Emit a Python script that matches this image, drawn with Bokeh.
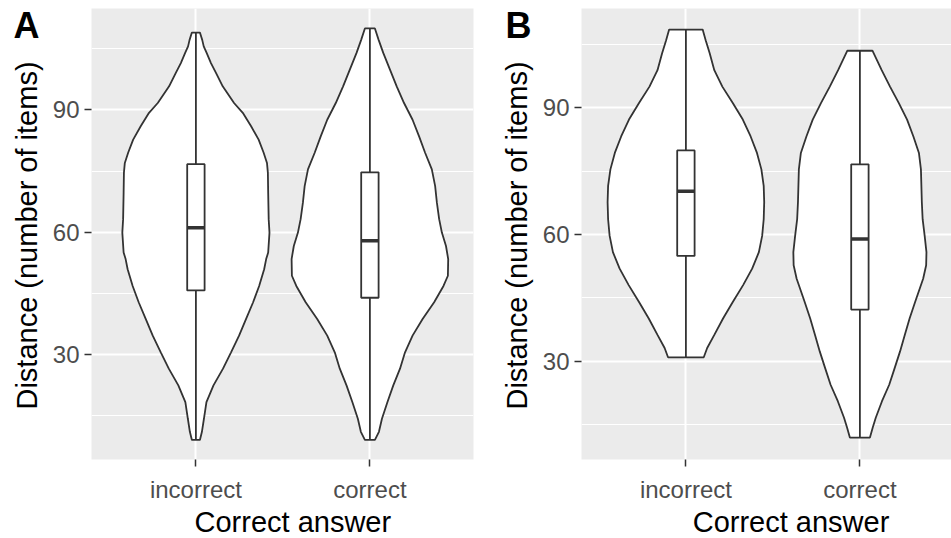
import numpy as np
from bokeh.plotting import figure
from bokeh.layouts import row, column
from bokeh.models import FixedTicker, Range1d
from bokeh.core.properties import value
from bokeh.embed import file_html
from bokeh.resources import INLINE

# ---------------- data ----------------
categories = ["incorrect", "correct"]

# Panel A: violin outlines (distance, relative density / half-width)
a_incorrect_dist = [9.0, 11.0, 14.2, 18.3, 22.4, 26.5, 30.5, 34.6, 38.7, 42.8, 46.8, 50.9, 53.4, 55.0,
                    59.9, 63.2, 69.7, 74.6, 77.0, 79.5, 82.7, 86.0, 89.3, 91.7, 95.8, 99.1, 101.5,
                    104.0, 105.6, 107.2, 109.0]
a_incorrect_dens = [4, 6, 8, 10.5, 17.5, 27, 35, 43, 50, 57, 63, 68, 70, 72,
                    73.3, 72.5, 72, 71.7, 70.8, 67.5, 62.5, 55, 46.7, 38, 26.7, 20, 15,
                    10.7, 7.8, 6.3, 4]
a_correct_dist = [9.0, 11.0, 14.2, 18.3, 22.4, 26.5, 30.5, 34.6, 38.7, 42.8, 46.8, 49.3, 53.4, 56.6,
                  59.9, 63.2, 67.3, 71.3, 75.4, 79.5, 83.5, 87.6, 91.7, 95.8, 99.9, 104.0, 107.2, 110.0]
a_correct_dens = [5, 9, 12, 17.5, 23.3, 30, 35, 42.5, 52.5, 64, 73.3, 77.7, 78, 75.8,
                  71.7, 69, 66.7, 65, 61.7, 55, 49, 42.5, 34, 26.7, 20, 13.3, 8.7, 5]

# Panel A: box plot statistics
a_lower = [45.7, 43.9]
a_median = [61.1, 57.9]
a_upper = [76.7, 74.7]
a_whisk_low = [9.0, 9.0]
a_whisk_high = [109.0, 110.0]

# Panel B: violin outlines
b_incorrect_dist = [30.9, 33.1, 36.2, 40.1, 44.0, 48.0, 51.9, 55.8, 59.7, 63.6, 67.6, 71.5, 75.4,
                    79.3, 83.2, 87.2, 91.1, 95.0, 98.9, 102.9, 106.0, 108.5]
b_incorrect_dens = [17.8, 21.2, 28.3, 37, 46.7, 57, 66, 72.7, 76, 77.5, 78, 77.5, 75.2,
                    70.8, 64.5, 56.7, 46.7, 36.3, 28.3, 23.7, 19.7, 16.7]
b_correct_dist = [11.9, 14.3, 16.6, 20.5, 24.4, 28.4, 32.3, 36.2, 40.1, 44.0, 49.5, 52.7, 55.8, 59.7,
                  63.6, 67.6, 75.4, 79.3, 83.2, 87.2, 91.1, 95.0, 98.9, 103.5]
b_correct_dens = [10, 12.8, 15.8, 22, 29.2, 34.7, 40, 44.7, 49.5, 55, 63, 66, 66.3, 64.5,
                  62.5, 61.7, 60.8, 58.8, 53.3, 47, 38.8, 30, 21.7, 12.5]

# Panel B: box plot statistics
b_lower = [54.9, 42.2]
b_median = [70.2, 58.9]
b_upper = [79.9, 76.6]
b_whisk_low = [30.9, 11.9]
b_whisk_high = [108.5, 103.5]

y_ticks = [30, 60, 90]
y_minor = [15, 45, 75, 105]
a_yrange = (4.2, 114.9)
b_yrange = (6.7, 113.5)

x_title = "Correct answer"
y_title = "Distance (number of items)"

# ---------------- styling / layout ----------------
FONT = "Liberation Sans"
INK = "#333333"
PANEL_BG = "#EBEBEB"
PX_PER_CAT = 174.0
TOTAL_H = 538
STRIP_W = 46          # left strip holding panel letter + y title
MAIN_H = 505          # main plot height (frame + tick labels)
TITLE_H = TOTAL_H - MAIN_H
LEFT_B = 45
TOP_B = 8
BOTTOM_B = 43


def text_strip(width, height, xs, ys, texts, sizes, styles, angles, aligns):
    s = figure(width=width, height=height, x_range=Range1d(0, width), y_range=Range1d(0, height),
               x_axis_type=None, y_axis_type=None, output_backend="svg", toolbar_location=None,
               min_border=0)
    s.outline_line_color = None
    s.background_fill_color = "white"
    s.border_fill_color = "white"
    for x, y, t, fs, st, an, al in zip(xs, ys, texts, sizes, styles, angles, aligns):
        s.text(x=[x], y=[y], text=[t], angle=an, text_font=value(FONT), text_font_size=value(fs),
               text_font_style=st, text_color="black", text_align=al, text_baseline="alphabetic")
    return s


def make_panel(dists, denss, lower, median, upper, wlo, whi, yr, width, right_b):
    frame_w = width - LEFT_B - right_b
    x_end = 0.4 + frame_w / PX_PER_CAT
    p = figure(width=width, height=MAIN_H, x_range=Range1d(0.4, x_end), y_range=Range1d(*yr),
               output_backend="svg", toolbar_location=None,
               min_border_left=LEFT_B, min_border_right=right_b,
               min_border_top=TOP_B, min_border_bottom=BOTTOM_B)
    p.background_fill_color = PANEL_BG
    p.border_fill_color = "white"
    p.outline_line_color = None

    xpos = list(range(1, len(categories) + 1))
    xt = FixedTicker(ticks=xpos)
    yt = FixedTicker(ticks=y_ticks, minor_ticks=y_minor)
    p.xaxis.ticker = xt
    p.xgrid.ticker = xt
    p.yaxis.ticker = yt
    p.ygrid.ticker = yt
    p.xaxis.major_label_overrides = {i: c for i, c in zip(xpos, categories)}

    for ax in (p.xaxis, p.yaxis):
        ax.axis_line_color = None
        ax.major_tick_line_color = INK
        ax.major_tick_line_width = 1.5
        ax.major_tick_out = 7
        ax.major_tick_in = 0
        ax.minor_tick_line_color = None
        ax.major_label_text_font = FONT
        ax.major_label_text_font_size = "24px"
        ax.major_label_text_color = "#4D4D4D"
    p.yaxis.major_label_standoff = 5
    p.xaxis.major_label_standoff = 9

    p.xgrid.grid_line_color = "white"
    p.xgrid.grid_line_width = 2
    p.ygrid.grid_line_color = "white"
    p.ygrid.grid_line_width = 2
    p.ygrid.minor_grid_line_color = "white"
    p.ygrid.minor_grid_line_width = 1

    maxd = max(max(d) for d in denss)
    for c, dist, dens in zip(xpos, dists, denss):
        half = np.array(dens, dtype=float) / maxd * 0.45
        ys = np.array(dist, dtype=float)
        xs = np.concatenate([c + half, (c - half)[::-1]])
        yy = np.concatenate([ys, ys[::-1]])
        p.patch(xs, yy, fill_color="white", line_color=INK, line_width=1.8)

    bw = 0.05
    p.segment(x0=xpos, x1=xpos, y0=wlo, y1=whi, line_color=INK, line_width=1.8)
    p.quad(left=[c - bw for c in xpos], right=[c + bw for c in xpos], bottom=lower, top=upper,
           fill_color="white", line_color=INK, line_width=1.8)
    p.segment(x0=[c - bw for c in xpos], x1=[c + bw for c in xpos], y0=median, y1=median,
              line_color=INK, line_width=3.5)
    return p


def left_strip(letter, letter_x):
    # letter at top-left, y title rotated and centred on the panel frame
    frame_mid = TOTAL_H - (TOP_B + (MAIN_H - TOP_B - BOTTOM_B) / 2)
    return text_strip(STRIP_W, TOTAL_H,
                      [letter_x, 26], [TOTAL_H - 25, frame_mid],
                      [letter, y_title], ["36px", "29px"], ["bold", "normal"],
                      [0, np.pi / 2], ["left", "center"])


def bottom_strip(width, center_x):
    return text_strip(width, TITLE_H, [center_x], [17], [x_title], ["29px"], ["normal"],
                      [0], ["center"])


A_W, A_RB = 444, 17
B_W, B_RB = 415, 0

pA = make_panel([a_incorrect_dist, a_correct_dist], [a_incorrect_dens, a_correct_dens],
                a_lower, a_median, a_upper, a_whisk_low, a_whisk_high, a_yrange, A_W, A_RB)
pB = make_panel([b_incorrect_dist, b_correct_dist], [b_incorrect_dens, b_correct_dens],
                b_lower, b_median, b_upper, b_whisk_low, b_whisk_high, b_yrange, B_W, B_RB)

layout = row(
    left_strip("A", 13),
    column(pA, bottom_strip(A_W, 234)),
    left_strip("B", 15),
    column(pB, bottom_strip(B_W, 235)),
)
open("out.html", "w").write(file_html(layout, INLINE))
